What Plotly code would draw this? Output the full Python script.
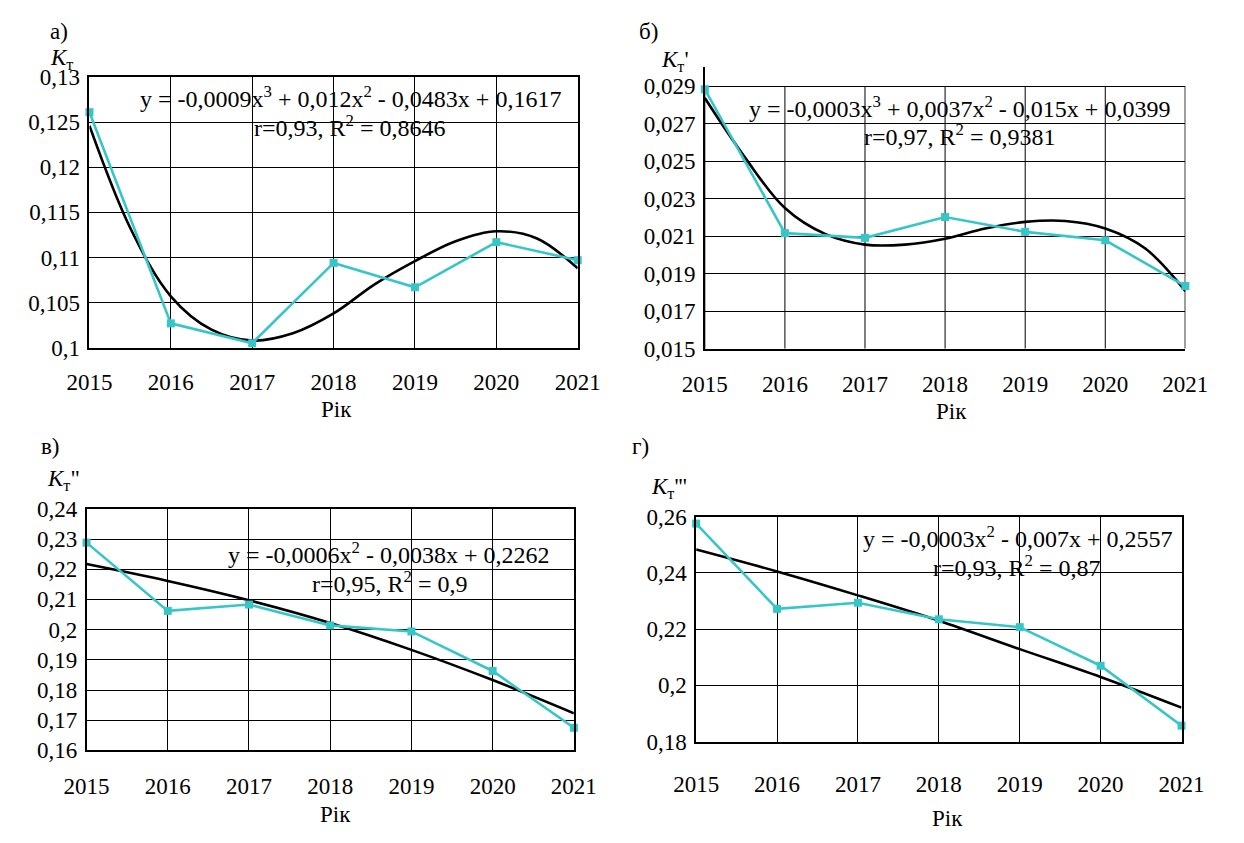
import plotly.graph_objects as go

W, H = 1244, 843
FONT = "'Liberation Serif', 'Times New Roman', 'DejaVu Serif', serif"
CYAN = "#36C6C8"

# ---------------- data ----------------
years = [2015, 2016, 2017, 2018, 2019, 2020, 2021]
year_labels = ["2015", "2016", "2017", "2018", "2019", "2020", "2021"]
trend_years_half = [2015, 2015.5, 2016, 2016.5, 2017, 2017.5, 2018,
                    2018.5, 2019, 2019.5, 2020, 2020.5, 2021]

# а) K_т
kt_a = [0.1261, 0.1027, 0.1005, 0.1094, 0.1067, 0.1117, 0.1097]
trend_a = [0.1246, 0.1133, 0.1057, 0.1020, 0.1008, 0.1016, 0.1038,
           0.1070, 0.1096, 0.1118, 0.1129, 0.1121, 0.1088]
yticks_a = [0.1, 0.105, 0.11, 0.115, 0.12, 0.125, 0.13]
ylabels_a = ["0,1", "0,105", "0,11", "0,115", "0,12", "0,125", "0,13"]

# б) K_т'
kt_b = [0.02883, 0.02116, 0.02091, 0.02202, 0.02123, 0.02078, 0.01834]
trend_b = [0.02836, 0.02520, 0.02250, 0.02112, 0.02055, 0.02055, 0.02086,
           0.02141, 0.02176, 0.02181, 0.02141, 0.02034, 0.01807]
yticks_b = [0.015, 0.017, 0.019, 0.021, 0.023, 0.025, 0.027, 0.029]
ylabels_b = ["0,015", "0,017", "0,019", "0,021", "0,023", "0,025", "0,027", "0,029"]

# в) K_т''
kt_c = [0.2288, 0.2062, 0.2083, 0.2014, 0.1994, 0.1863, 0.1675]
trend_c = [0.2217, 0.2161, 0.2097, 0.2022, 0.1933, 0.1833, 0.1723]
yticks_c = [0.16, 0.17, 0.18, 0.19, 0.2, 0.21, 0.22, 0.23, 0.24]
ylabels_c = ["0,16", "0,17", "0,18", "0,19", "0,2", "0,21", "0,22", "0,23", "0,24"]

# г) K_т'''
kt_d = [0.2575, 0.2272, 0.2294, 0.2235, 0.2207, 0.2070, 0.1857]
trend_d = [0.2483, 0.2405, 0.2320, 0.2230, 0.2129, 0.2030, 0.1921]
yticks_d = [0.18, 0.2, 0.22, 0.24, 0.26]
ylabels_d = ["0,18", "0,2", "0,22", "0,24", "0,26"]

eq_a = ["y = -0,0009x<sup>3</sup> + 0,012x<sup>2</sup> - 0,0483x + 0,1617",
        "r=0,93, R<sup>2</sup> = 0,8646"]
eq_b = ["y = -0,0003x<sup>3</sup> + 0,0037x<sup>2</sup> - 0,015x + 0,0399",
        "r=0,97, R<sup>2</sup> = 0,9381"]
eq_c = ["y = -0,0006x<sup>2</sup> - 0,0038x + 0,2262",
        "r=0,95, R<sup>2</sup> = 0,9"]
eq_d = ["y = -0,0003x<sup>2</sup> - 0,007x + 0,2557",
        "r=0,93, R<sup>2</sup> = 0,87"]


def px(x):
    return x / W


def py(y):
    return 1 - y / H


panels = [
    dict(key="", tx=trend_years_half, tr=trend_a, kt=kt_a, yt=yticks_a, yl=ylabels_a,
         yr=[0.1, 0.13], xd=(69, 576), yd=(346, 67), xstand=13, full_box=True,
         letter=("а)", 37, 20), ytitle=("<i>K</i><sub>т</sub>", 40, 48),
         xtitle=(326, 410), eq=eq_a, eqpos=[(340, 88), (339, 117)]),
    dict(key="2", tx=trend_years_half, tr=trend_b, kt=kt_b, yt=yticks_b, yl=ylabels_b,
         yr=[0.015, 0.030], xd=(708, 1207), yd=(347, 57), xstand=14, full_box=False,
         letter=("б)", 650, 20), ytitle=("<i>K</i><sub>т</sub>'", 677, 50),
         xtitle=(964, 412), eq=eq_b, eqpos=[(972, 98), (972, 127)]),
    dict(key="3", tx=years, tr=trend_c, kt=kt_c, yt=yticks_c, yl=ylabels_c,
         yr=[0.16, 0.24], xd=(66, 572), yd=(761, 512), xstand=14, full_box=True,
         letter=("в)", 29, 448), ytitle=("<i>K</i><sub>т</sub>\"", 42, 482),
         xtitle=(324, 827), eq=eq_c, eqpos=[(380, 558), (381, 587)]),
    dict(key="4", tx=years, tr=trend_d, kt=kt_d, yt=yticks_d, yl=ylabels_d,
         yr=[0.18, 0.26], xd=(699, 1203), yd=(752, 520), xstand=21, full_box=True,
         letter=("г)", 641, 448), ytitle=("<i>K</i><sub>т</sub>'''", 671, 491),
         xtitle=(960, 831), eq=eq_d, eqpos=[(1033, 541), (1032, 571)]),
]

fig = go.Figure()
annotations = []
shapes = []
layout = {}

for p in panels:
    k = p["key"]
    xa = "x" + k
    ya = "y" + k
    fig.add_trace(go.Scatter(
        x=p["tx"], y=p["tr"], mode="lines", xaxis=xa, yaxis=ya,
        line=dict(color="black", width=2.6, shape="spline", smoothing=1.0),
        cliponaxis=False, showlegend=False, hoverinfo="skip"))
    fig.add_trace(go.Scatter(
        x=years, y=p["kt"], mode="lines+markers", xaxis=xa, yaxis=ya,
        line=dict(color=CYAN, width=2.6),
        marker=dict(symbol="square", size=8, color=CYAN),
        cliponaxis=False, showlegend=False))

    layout["xaxis" + k] = dict(
        domain=[px(p["xd"][0]), px(p["xd"][1])], range=[2015, 2021],
        anchor=ya, tickvals=years, ticktext=year_labels,
        showgrid=p["full_box"], gridcolor="black", gridwidth=1,
        showline=True, linecolor="black", linewidth=1.5, mirror=p["full_box"],
        ticks="", ticklabelstandoff=p["xstand"], zeroline=False,
        tickfont=dict(family=FONT, size=23, color="black"), fixedrange=True)
    layout["yaxis" + k] = dict(
        domain=[py(p["yd"][0]), py(p["yd"][1])], range=p["yr"],
        anchor=xa, tickvals=p["yt"], ticktext=p["yl"],
        showgrid=True, gridcolor="black", gridwidth=1,
        showline=True, linecolor="black", linewidth=1.5, mirror=p["full_box"],
        ticks="", ticklabelstandoff=3, zeroline=False,
        tickfont=dict(family=FONT, size=23, color="black"), fixedrange=True)

    if not p["full_box"]:
        for yv in years:
            shapes.append(dict(type="line", xref=xa, yref=ya, x0=yv, x1=yv,
                               y0=p["yt"][0], y1=p["yt"][-1],
                               line=dict(color="black", width=1.5 if yv == 2021 else 1),
                               layer="below"))

    t, lx, ly = p["letter"]
    annotations.append(dict(text=t, x=px(lx), y=py(ly), xref="paper", yref="paper",
                            showarrow=False, xanchor="center", yanchor="middle",
                            font=dict(family=FONT, size=23, color="black")))
    t, lx, ly = p["ytitle"]
    annotations.append(dict(text=t, x=px(lx), y=py(ly), xref="paper", yref="paper",
                            showarrow=False, xanchor="center", yanchor="middle",
                            font=dict(family=FONT, size=23, color="black")))
    lx, ly = p["xtitle"]
    annotations.append(dict(text="Рік", x=px(lx), y=py(ly), xref="paper", yref="paper",
                            showarrow=False, xanchor="center", yanchor="middle",
                            font=dict(family=FONT, size=23, color="black")))
    for line, (lx, ly) in zip(p["eq"], p["eqpos"]):
        annotations.append(dict(text=line, x=px(lx), y=py(ly), xref="paper", yref="paper",
                                showarrow=False, xanchor="center", yanchor="middle",
                                font=dict(family=FONT, size=24, color="black")))

fig.update_layout(
    width=W, height=H, margin=dict(l=0, r=0, t=0, b=0),
    paper_bgcolor="white", plot_bgcolor="white",
    annotations=annotations, shapes=shapes, showlegend=False,
    font=dict(family=FONT, color="black"),
    **layout)

fig.write_html("out.html", config={"displayModeBar": False},
               post_script="document.body.style.margin='0';document.body.style.overflow='hidden';")
